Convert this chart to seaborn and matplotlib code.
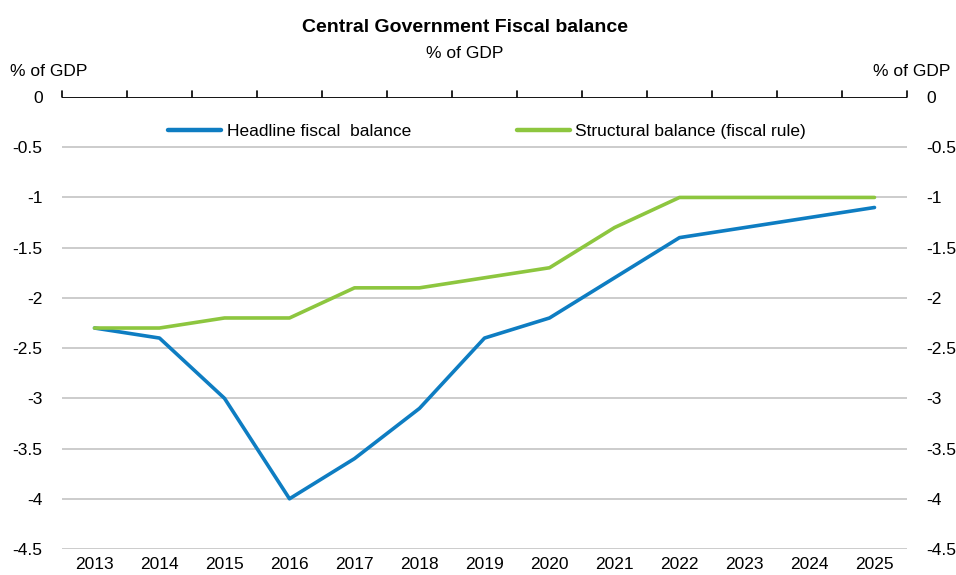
import matplotlib
matplotlib.use("Agg")
import matplotlib.pyplot as plt
import seaborn as sns
import pandas as pd
import numpy as np

years = [2013, 2014, 2015, 2016, 2017, 2018, 2019, 2020, 2021, 2022, 2023, 2024, 2025]
headline = [-2.3, -2.4, -3.0, -4.0, -3.6, -3.1, -2.4, -2.2, -1.8, -1.4, -1.3, -1.2, -1.1]
structural = [-2.3, -2.3, -2.2, -2.2, -1.9, -1.9, -1.8, -1.7, -1.3, -1.0, -1.0, -1.0, -1.0]
series_names = ["Headline fiscal  balance", "Structural balance (fiscal rule)"]
y_ticks = [0, -0.5, -1, -1.5, -2, -2.5, -3, -3.5, -4, -4.5]

sns.set_theme(style="white")
plt.rcParams["font.family"] = ["Liberation Sans", "DejaVu Sans"]
plt.rcParams["text.color"] = "black"
plt.rcParams["xtick.color"] = "black"
plt.rcParams["ytick.color"] = "black"

df = pd.DataFrame({
    "pos": list(range(len(years))) * 2,
    "value": headline + structural,
    "series": [series_names[0]] * len(years) + [series_names[1]] * len(years),
})

fig = plt.figure(figsize=(9.56, 5.75), dpi=100)
ax = fig.add_axes([62 / 956, 1 - 549 / 575, 845 / 956, 452 / 575])

sns.lineplot(data=df, x="pos", y="value", hue="series",
             palette=["#0e7dc2", "#8dc63f"], linewidth=2.6, ax=ax,
             legend=True, solid_capstyle="round")

ax.set_xlim(-0.5, len(years) - 0.5)
ax.set_ylim(-4.5, 0)
ax.set_yticks(y_ticks)
ax.set_yticklabels([f"{v:g}" for v in y_ticks])
for v in y_ticks[1:]:
    ax.axhline(v, color="#c8c8c8", lw=1.3, zorder=0)
ax.axhline(0, color="black", lw=1.3, zorder=3)

# category boundary ticks rising from the zero line
for b in np.arange(-0.5, len(years), 1.0):
    ax.plot([b, b], [0, 0.055], color="black", lw=1.2, zorder=3, clip_on=False)

for s in ax.spines.values():
    s.set_visible(False)

ax.set_xticks(range(len(years)))
ax.set_xticklabels([str(y) for y in years], fontsize=12.5)
ax.tick_params(axis="x", length=0, pad=6)
ax.tick_params(axis="y", length=0, labelsize=12.5, pad=14,
               left=False, right=False, labelleft=True, labelright=True)
ax.set_xlabel("")
ax.set_ylabel("")

leg = ax.legend(loc="upper center", bbox_to_anchor=(0.503, 0.975), ncol=2,
                frameon=False, fontsize=12.5, handlelength=3.05,
                handletextpad=0.3, columnspacing=6.1)
for h in leg.get_lines():
    h.set_linewidth(3.2)

fig.text(465 / 956, 1 - 28 / 575, "Central Government Fiscal balance",
         ha="center", va="center", fontsize=14, fontweight="bold")
fig.text(465 / 956, 1 - 54 / 575, "% of GDP", ha="center", va="center",
         fontsize=12.5)
fig.text(10 / 956, 1 - 72 / 575, "% of GDP", ha="left", va="center",
         fontsize=12.5)
fig.text(950 / 956, 1 - 72 / 575, "% of GDP", ha="right", va="center",
         fontsize=12.5)

fig.savefig("out.png", dpi=100, facecolor="white")
